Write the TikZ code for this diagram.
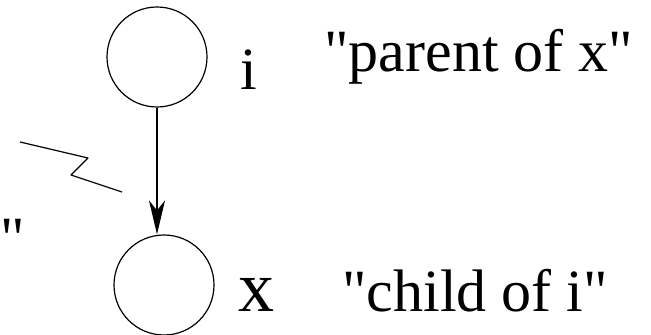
\documentclass[tikz,border=0pt]{standalone}
\usepackage{fontspec}
\setmainfont{Liberation Serif}
\usetikzlibrary{arrows.meta}

\begin{document}
\begin{tikzpicture}[x=0.5pt, y=-0.5pt, >={Stealth[length=17pt,width=8pt,inset=5pt]}, line join=round,
    vertex/.style={draw, circle, line width=0.6pt, minimum size=50pt, inner sep=0pt},
    txt/.style={font=\fontsize{30}{36}\selectfont, inner sep=0pt},
    bigtxt/.style={font=\fontsize{36}{42}\selectfont, inner sep=0pt}]
  \useasboundingbox (0,0) rectangle (651,335);
  \node[vertex] (parent) at (157,57) {};
  \node[vertex] (child) at (164,285) {};
  \node[txt, anchor=base] (ilabel) at (249,90) {i};
  \node[bigtxt, anchor=base] (xlabel) at (256.5,312) {x};
  \node[txt, anchor=base west] (ptext) at (324,72) {\textquotedbl parent of x\textquotedbl};
  \node[txt, anchor=base west] (ctext) at (342,312) {\textquotedbl child of i\textquotedbl};
  \node[txt, anchor=base west] (rest) at (0,259) {\textquotedbl};
  \coordinate (z0) at (20,142);
  \coordinate (z1) at (88,158);
  \coordinate (z2) at (71,175);
  \coordinate (z3) at (122,192);
  \draw[->, line width=0.6pt] (parent.south) -- (parent.south |- child.north);
  \draw[line width=0.6pt] (z0) -- (z1) -- (z2) -- (z3);
\end{tikzpicture}
\end{document}
